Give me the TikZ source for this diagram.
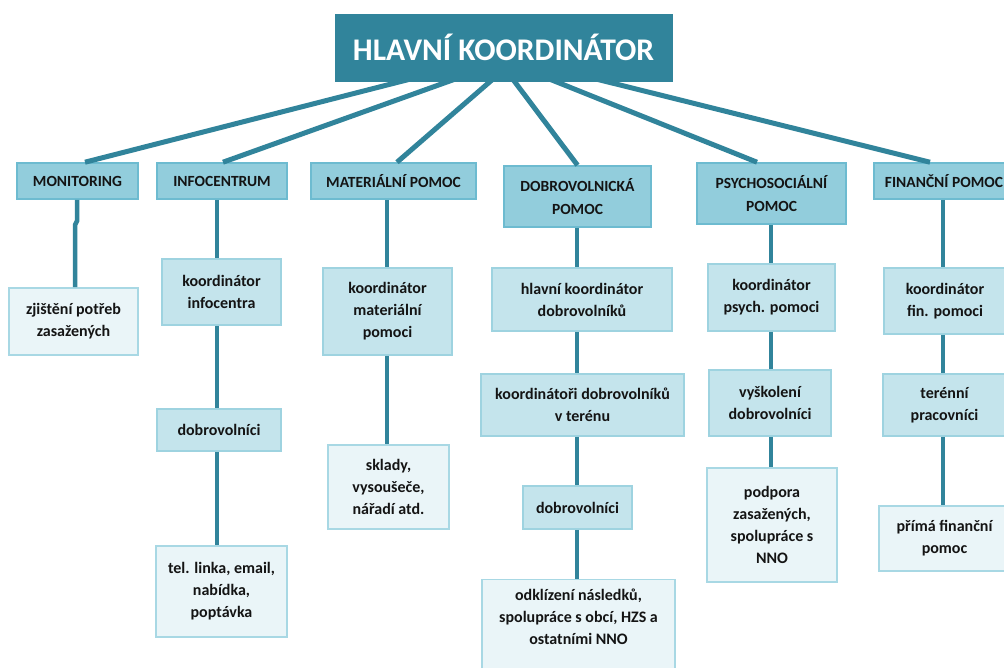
\documentclass[tikz,border=0pt]{standalone}
\usepackage{fontspec}
\setmainfont{Carlito}
\usetikzlibrary{calc}
\definecolor{teal1}{HTML}{31849B}
\definecolor{lvlA}{HTML}{92CDDC}
\definecolor{lvlAb}{HTML}{6DBBD0}
\definecolor{lvlB}{HTML}{C4E4EC}
\definecolor{lvlBb}{HTML}{9ED3E0}
\definecolor{lvlC}{HTML}{EAF5F8}
\definecolor{lvlCb}{HTML}{A8D8E4}
\definecolor{txt}{HTML}{141414}
\tikzset{
  box/.style={rectangle, inner sep=0pt, align=center, line width=1.6pt, text=txt,
    font=\fontsize{16}{22}\selectfont\bfseries},
  titlebox/.style={rectangle, inner sep=0pt, fill=teal1, draw=teal1, text=white,
    font=\fontsize{31.5}{34}\selectfont\bfseries},
  lvlone/.style={box, fill=lvlA, draw=lvlAb, font=\fontsize{15.5}{23}\selectfont\bfseries},
  lvltwo/.style={box, fill=lvlB, draw=lvlBb},
  lvlthree/.style={box, fill=lvlC, draw=lvlCb},
  conn/.style={draw=teal1, line width=5pt},
  vconn/.style={draw=teal1, line width=4.5pt}
}
\begin{document}
\begin{tikzpicture}[x=1pt,y=-1pt]
\clip (0,0) rectangle (1004,667);
\useasboundingbox (0,0) rectangle (1004,667);
\fill[white] (0,0) rectangle (1004,667);

% title
\node[titlebox, minimum width=337, minimum height=67] (title) at (503.5,47.5) {HLAVNÍ KOORDINÁTOR};

% level 1
\node[lvlone, minimum width=121, minimum height=36] (mon) at (77.5,181) {MONITORING};
\node[lvlone, minimum width=130, minimum height=36] (info) at (222,181) {INFOCENTRUM};
\node[lvlone, minimum width=165, minimum height=36] (mat) at (393.5,181) {MATERIÁLNÍ POMOC};
\node[lvlone, minimum width=147, minimum height=61] (dob) at (577.5,196.5) {DOBROVOLNICKÁ\\POMOC};
\node[lvlone, minimum width=149, minimum height=61] (psy) at (771.5,193.5) {PSYCHOSOCIÁLNÍ\\POMOC};
\node[lvlone, minimum width=140, minimum height=36] (fin) at (944,181) {FINANČNÍ POMOC};

% column lines
\coordinate (cM) at (75,0);
\coordinate (cI) at (217,0);
\coordinate (cT) at (387,0);
\coordinate (cD) at (577,0);
\coordinate (cP) at (771,0);
\coordinate (cF) at (943,0);

% monitoring column
\node[lvlthree, minimum width=129, minimum height=67] (zj) at (73.5,321.5) {zjištění potřeb\\zasažených};

% infocentrum column
\node[lvltwo, minimum width=119, minimum height=66] (ki) at (221.5,292) {koordinátor\\infocentra};
\node[lvltwo, minimum width=124, minimum height=42] (di) at (219,430) {dobrovolníci};
\node[lvlthree, minimum width=131, minimum height=91] (tel) at (221.5,591.5) {tel. linka, email,\\nabídka,\\poptávka};

% materialni column
\node[lvltwo, minimum width=129, minimum height=87] (km) at (387.5,311.5) {koordinátor\\materiální\\pomoci};
\node[lvlthree, minimum width=121, minimum height=84] (skl) at (388.5,487) {sklady,\\vysoušeče,\\nářadí atd.};

% dobrovolnicka column
\node[lvltwo, minimum width=180, minimum height=63] (hk) at (582,299.5) {hlavní koordinátor\\dobrovolníků};
\node[lvltwo, minimum width=203, minimum height=62] (kd) at (582.5,405) {koordinátoři dobrovolníků\\v terénu};
\node[lvltwo, minimum width=109, minimum height=43] (dd) at (577.5,507.5) {dobrovolníci};
\node[lvlthree, minimum width=193, minimum height=105] (odk) at (578.5,632) {};
\node[box, anchor=north] (odkt) at (578.5,588) {odklízení následků,\\spolupráce s obcí, HZS a\\ostatními NNO};

% psychosocialni column
\node[lvltwo, minimum width=127, minimum height=67] (kp) at (771.5,297.5) {koordinátor\\psych. pomoci};
\node[lvltwo, minimum width=122, minimum height=66] (vd) at (770,403) {vyškolení\\dobrovolníci};
\node[lvlthree, minimum width=130, minimum height=114] (pod) at (772,525) {podpora\\zasažených,\\spolupráce s\\NNO};

% financni column
\node[lvltwo, minimum width=122, minimum height=66] (kf) at (945,301) {koordinátor\\fin. pomoci};
\node[lvltwo, minimum width=123, minimum height=62] (tp) at (944.5,405) {terénní\\pracovníci};
\node[lvlthree, minimum width=131, minimum height=65] (pf) at (944.5,538.5) {přímá finanční\\pomoc};

% diagonal connectors from title
\draw[conn] ($(title.south west)+(75,-2)$) -- ($(mon.north)+(7.5,0)$);
\draw[conn] ($(title.south west)+(120,-2)$) -- ($(info.north)+(1,0)$);
\draw[conn] ($(title.south west)+(158,-2)$) -- ($(mat.north)+(3.5,0)$);
\draw[conn] ($(title.south west)+(178,-2)$) -- (dob.north);
\draw[conn] ($(title.south west)+(215,-2)$) -- ($(psy.north)+(-14.5,0)$);
\draw[conn] ($(title.south west)+(262,-2)$) -- ($(fin.north)+(-14,0)$);

% vertical connectors
\draw[vconn] (mon.south -| 77,0) -- (77,221) -- (75,225) -- (zj.north -| cM);
\draw[vconn] (info.south -| cI) -- (ki.north -| cI);
\draw[vconn] (ki.south -| cI) -- (di.north -| cI);
\draw[vconn] (di.south -| cI) -- (tel.north -| cI);
\draw[vconn] (mat.south -| cT) -- (km.north -| cT);
\draw[vconn] (km.south -| cT) -- (skl.north -| cT);
\draw[vconn] (dob.south -| cD) -- (hk.north -| cD);
\draw[vconn] (hk.south -| cD) -- (kd.north -| cD);
\draw[vconn] (kd.south -| cD) -- (dd.north -| cD);
\draw[vconn] (dd.south -| cD) -- (odk.north -| cD);
\draw[vconn] (psy.south -| cP) -- (kp.north -| cP);
\draw[vconn] (kp.south -| cP) -- (vd.north -| cP);
\draw[vconn] (vd.south -| cP) -- (pod.north -| cP);
\draw[vconn] (fin.south -| cF) -- (kf.north -| cF);
\draw[vconn] (kf.south -| cF) -- (tp.north -| cF);
\draw[vconn] (tp.south -| cF) -- (pf.north -| cF);
\end{tikzpicture}
\end{document}
